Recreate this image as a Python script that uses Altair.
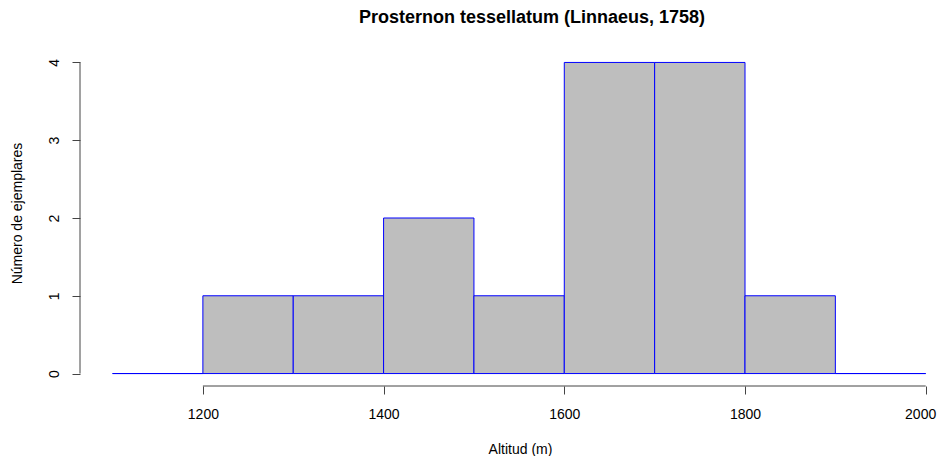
import altair as alt
import pandas as pd

bin_start = [1100, 1200, 1300, 1400, 1500, 1600, 1700, 1800, 1900]
bin_end = [1200, 1300, 1400, 1500, 1600, 1700, 1800, 1900, 2000]
counts = [0, 1, 1, 2, 1, 4, 4, 1, 0]
x_ticks = [1200, 1400, 1600, 1800, 2000]
y_ticks = [0, 1, 2, 3, 4]

title = "Prosternon tessellatum (Linnaeus, 1758)"
x_title = "Altitud (m)"
y_title = "Número de ejemplares"

bars = pd.DataFrame({"start": bin_start, "end": bin_end, "count": counts})

X_DOM = [1064, 2013.6]
Y_DOM = [-0.16, 4.16]
W, H = 858, 336
FONT = "Liberation Sans"

xs = alt.Scale(domain=X_DOM, nice=False, zero=False)
ys = alt.Scale(domain=Y_DOM, nice=False, zero=False)

x_axis = alt.Axis(
    values=x_ticks, domain=False, grid=False, tickSize=8, tickColor="#444444",
    labelPadding=13, labelFontSize=14, labelFont=FONT, labelColor="black",
    labelFlush=15, labelFlushOffset=10, labelOverlap=False,
    title=x_title, titleFont=FONT, titleFontSize=14, titleFontWeight="normal",
    titleColor="black", titleX=440, titleY=67, titleAlign="center",
    titleBaseline="alphabetic", format="d",
)
y_axis = alt.Axis(
    values=y_ticks, domain=False, grid=False, tickSize=8, tickColor="#444444",
    labelPadding=11, labelFontSize=14, labelFont=FONT, labelColor="black",
    labelAngle=270, labelAlign="center", labelBaseline="bottom",
    labelFlush=False, labelOverlap=False, format="d",
    title=y_title, titleFont=FONT, titleFontSize=14, titleFontWeight="normal",
    titleColor="black", titleX=-63, titleY=163, titleAngle=270,
    titleAlign="center", titleBaseline="middle",
)

base = alt.Chart(bars)

hist = base.mark_rect(fill="#BEBEBE", stroke="#0000FF", strokeWidth=1).encode(
    x=alt.X("start:Q", scale=xs, axis=x_axis),
    x2="end:Q",
    y=alt.Y("count:Q", scale=ys, axis=y_axis),
    y2=alt.datum(0),
)

x_line = alt.Chart(pd.DataFrame({"a": [x_ticks[0]], "b": [x_ticks[-1]], "y": [Y_DOM[0]]})).mark_rule(
    color="#444444", strokeWidth=1
).encode(
    x=alt.X("a:Q", scale=xs), x2="b:Q", y=alt.Y("y:Q", scale=ys)
)

y_line = alt.Chart(pd.DataFrame({"x": [X_DOM[0]], "a": [y_ticks[0]], "b": [y_ticks[-1]]})).mark_rule(
    color="#444444", strokeWidth=1
).encode(
    x=alt.X("x:Q", scale=xs), y=alt.Y("a:Q", scale=ys), y2="b:Q"
)

title_text = alt.Chart(pd.DataFrame({"t": [title]})).mark_text(
    font=FONT, fontSize=18, fontWeight="bold", color="black",
    align="center", baseline="alphabetic",
).encode(
    text="t:N", x=alt.value(452), y=alt.value(-27)
)

chart = alt.layer(hist, x_line, y_line, title_text).properties(
    width=W, height=H,
    autosize=alt.AutoSizeParams(type="none"),
    padding={"left": 72, "top": 42, "right": 0, "bottom": 70},
).configure(background="white").configure_view(strokeWidth=0)

chart.save("out.html", embed_options={"renderer": "svg", "actions": False})
